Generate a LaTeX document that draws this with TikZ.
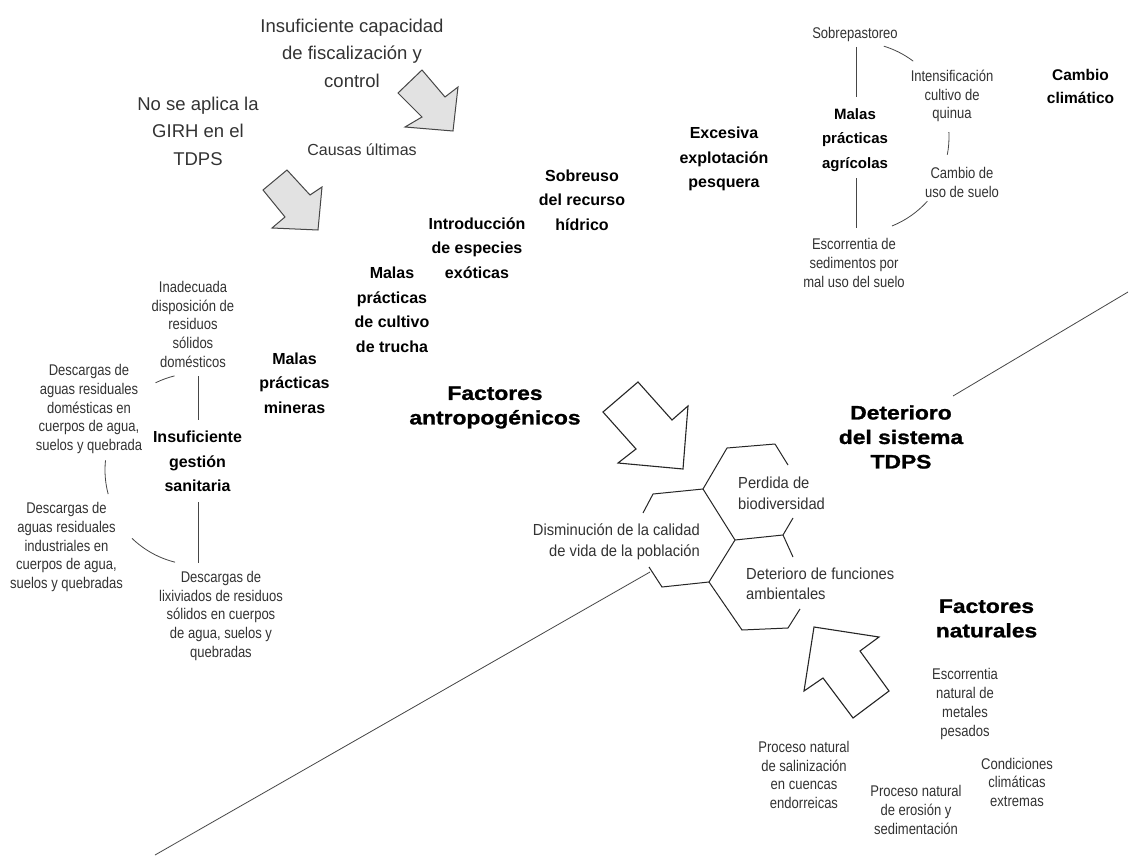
\documentclass[tikz,border=0pt]{standalone}
\usepackage{fontspec}
\setmainfont{Liberation Sans}
\newfontfamily\narrowfont[FakeStretch=0.84]{Liberation Sans}
\newfontfamily\hexfont[FakeStretch=0.92]{Liberation Sans}
\newfontfamily\widefont[FakeStretch=1.17,FakeBold=1.2]{Liberation Sans}
\usetikzlibrary{calc}
\definecolor{inkgray}{RGB}{51,51,51}
\definecolor{linegray}{RGB}{70,70,70}
\definecolor{arrowfill}{RGB}{226,226,226}

\begin{document}
\begin{tikzpicture}[x=1pt,y=-1pt,
  every node/.style={inner sep=0pt, align=center},
  big/.style={font=\fontsize{18.5}{27.5}\selectfont, text=inkgray},
  causa/.style={font=\fontsize{16}{24.5}\selectfont, text=inkgray},
  cause/.style={font=\bfseries\fontsize{16}{24.5}\selectfont},
  header/.style={font=\widefont\bfseries\fontsize{19.5}{24.5}\selectfont},
  small/.style={font=\narrowfont\fontsize{15.5}{18.8}\selectfont, text=inkgray},
  hextxt/.style={font=\hexfont\fontsize{16}{20.5}\selectfont, text=inkgray},
  spoke/.style={draw=linegray, line width=0.8pt},
  cell/.style={draw=black!85, line width=1pt},
  grayarrow/.style={draw=linegray, fill=arrowfill, line width=1pt, line join=miter},
  whitearrow/.style={draw=black!85, fill=white, line width=1.1pt, line join=miter},
  divider/.style={draw=linegray, line width=0.8pt},
]
\fill[white] (0,0) rectangle (1130,856);
\useasboundingbox (0,0) rectangle (1130,856);

% ---------- ultimate causes ----------
\node[big] (capacidad) at (352,53) {Insuficiente capacidad\\de fiscalización y\\control};
\node[big] (girh) at (198,131) {No se aplica la\\GIRH en el\\TDPS};
\node[causa] (causas) at (362,150) {Causas últimas};

\draw[grayarrow] (398,93) -- (422,70) -- (445,97) -- (458,87) -- (453,131) -- (405,127) -- (422,117) -- cycle;
\draw[grayarrow] (263,190) -- (287,170) -- (310,195) -- (322,187) -- (318,230) -- (272,228) -- (285,217) -- cycle;

% ---------- anthropogenic drivers ----------
\node[cause] (sanitaria) at (197.5,461.5) {Insuficiente\\gestión\\sanitaria};
\node[cause] (mineras) at (294.5,383) {Malas\\prácticas\\mineras};
\node[cause] (trucha) at (392,310) {Malas\\prácticas\\de cultivo\\de trucha};
\node[cause] (exoticas) at (477,248) {Introducción\\de especies\\exóticas};
\node[cause] (hidrico) at (582,200) {Sobreuso\\del recurso\\hídrico};
\node[cause] (pesquera) at (724,159) {Excesiva\\explotación\\pesquera};
\node[cause, font=\bfseries\fontsize{15}{24.5}\selectfont] (agricolas) at (855,140) {Malas\\prácticas\\agrícolas};
\node[cause, font=\bfseries\fontsize{15.5}{23}\selectfont] (clima) at (1080.5,86) {Cambio\\climático};

% agricultural practices cluster
\coordinate (agc) at (856,137);
\node[small] (sobre) at (855,34.5) {Sobrepastoreo};
\node[small] (quinua) at (952,96) {Intensificación\\cultivo de\\quinua};
\node[small] (usosuelo) at (962,182.5) {Cambio de\\uso de suelo};
\node[small] (sedim) at (854,263) {Escorrentia de\\sedimentos por\\mal uso del suelo};
\draw[spoke] ($(agc)+(-90:90)$) -- ($(agc)+(-90:40)$);
\draw[spoke] ($(agc)+(90:41)$) -- ($(agc)+(90:91)$);
\draw[spoke] ($(agc)+(-73:95)$) arc[start angle=-73, end angle=-53, radius=95];
\draw[spoke] ($(agc)+(-3:93)$) arc[start angle=-3, end angle=11, radius=93];
\draw[spoke] ($(agc)+(42:96)$) arc[start angle=42, end angle=68, radius=96];

% sanitation cluster
\coordinate (sanc) at (198,470);
\node[small] (solidos) at (193,324.4) {Inadecuada\\disposición de\\residuos\\sólidos\\domésticos};
\node[small] (domest) at (89,409) {Descargas de\\aguas residuales\\domésticas en\\cuerpos de agua,\\suelos y quebrada};
\node[small] (indust) at (66.5,547) {Descargas de\\aguas residuales\\industriales en\\cuerpos de agua,\\suelos y quebradas};
\node[small] (lixiv) at (221,615.8) {Descargas de\\lixiviados de residuos\\sólidos en cuerpos\\de agua, suelos y\\quebradas};
\draw[spoke] ($(sanc)+(-90:94)$) -- ($(sanc)+(-90:50)$);
\draw[spoke] ($(sanc)+(90:32)$) -- ($(sanc)+(90:93)$);
\draw[spoke] ($(sanc)+(-116:97)$) arc[start angle=-116, end angle=-104, radius=97];
\draw[spoke] ($(sanc)+(165:93)$) arc[start angle=165, end angle=186, radius=93];
\draw[spoke] ($(sanc)+(104:95)$) arc[start angle=104, end angle=134, radius=95];

% ---------- central effects ----------
\node[header] (antrop) at (495,407.5) {Factores\\antropogénicos};
\node[header] (tdps) at (901,437) {Deterioro\\del sistema\\TDPS};
\node[header] (naturales) at (986.5,618.5) {Factores\\naturales};

\draw[whitearrow] (603,412) -- (638,382) -- (672,420) -- (688,406) -- (683,469) -- (618,463) -- (636,449) -- cycle;
\draw[whitearrow] (814,627) -- (879,637) -- (860,651) -- (889,691) -- (853,718) -- (823,678) -- (804,691) -- cycle;

% honeycomb of effects
\coordinate (J) at (735,540);
\coordinate (A) at (703,489);
\coordinate (B) at (727,448);
\coordinate (C) at (775,444);
\coordinate (E) at (783,535);
\coordinate (K) at (709,582);
\coordinate (L) at (653,494);
\coordinate (N) at (662,587);
\coordinate (G) at (788,628);
\coordinate (H) at (742,630);
\draw[cell] (C) -- ++(13,21);
\draw[cell] (793,518) -- (E);
\draw[cell] (E) -- ++(10,22);
\draw[cell] (800,609) -- (G) -- (H) -- (K) -- (J) -- (E);
\draw[cell] (J) -- (A) -- (B) -- (C);
\draw[cell] (K) -- (N) -- ++(-13,-20);
\draw[cell] (A) -- (L) -- ++(-10,19);

\node[hextxt, anchor=west, align=left] (biodiv) at (738,493.5) {Perdida de\\biodiversidad};
\node[hextxt, anchor=east, align=right] (vida) at (700,542) {Disminución de la calidad\\de vida de la población};
\node[hextxt, anchor=west, align=left] (funciones) at (746,584) {Deterioro de funciones\\ambientales};

% divider lines
\coordinate (hexfoot) at (650,572);
\coordinate (lowend) at (155,855);
\coordinate (tdpsfoot) at (953,396);
\coordinate (highend) at (1128,292);
\draw[divider] (hexfoot) -- (lowend);
\draw[divider] (tdpsfoot) -- (highend);

% ---------- natural drivers ----------
\node[small] (metales) at (965,704) {Escorrentia\\natural de\\metales\\pesados};
\node[small] (salin) at (804,775) {Proceso natural\\de salinización\\en cuencas\\endorreicas};
\node[small] (erosion) at (916,809.7) {Proceso natural\\de erosión y\\sedimentación};
\node[small] (extremas) at (1017,782.3) {Condiciones\\climáticas\\extremas};
\end{tikzpicture}
\end{document}
